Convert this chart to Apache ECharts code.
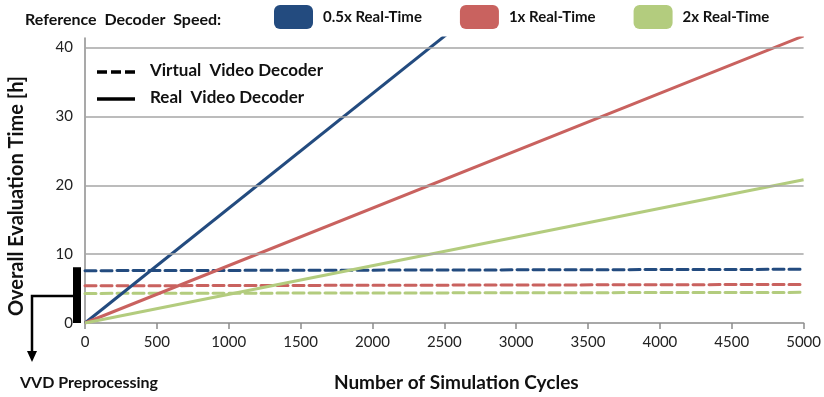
<!DOCTYPE html>
<html>
<head>
<meta charset="utf-8">
<script src="https://cdn.jsdelivr.net/npm/echarts@6/dist/echarts.min.js"></script>
<style>
  html, body { margin: 0; padding: 0; background: #fff; }
  #main { width: 824px; height: 397px; }
</style>
</head>
<body>
<div id="main"></div>
<script>
// 数据
var cycles = [0, 5000];
var speedNames = ['0.5x Real-Time', '1x Real-Time', '2x Real-Time'];
var speedColors = ['#234B7F', '#C9625F', '#B3CC7E'];
// real video decoder (hours)
var realHalf = [0, 83.3];
var realOne = [0, 41.7];
var realTwo = [0, 20.8];
// virtual video decoder (hours)
var vvdHalf = [7.6, 7.8];
var vvdOne = [5.4, 5.6];
var vvdTwo = [4.3, 4.45];
var yTicks = [0, 10, 20, 30, 40];
var preprocessing = 8.1;

var font = 'Lato, "Open Sans", sans-serif';

function pairs(ys) {
  return cycles.map(function (c, i) { return [c, ys[i]]; });
}

var realData = [realHalf, realOne, realTwo];
var vvdData = [vvdHalf, vvdOne, vvdTwo];

var series = [];
for (var i = 0; i < 3; i++) {
  series.push({
    name: speedNames[i],
    type: 'line',
    data: pairs(vvdData[i]),
    symbol: 'none',
    color: speedColors[i],
    lineStyle: { width: 3, type: [11, 5], cap: 'round', color: speedColors[i] },
    z: 2
  });
}
for (var j = 0; j < 3; j++) {
  series.push({
    name: speedNames[j],
    type: 'line',
    data: pairs(realData[j]),
    symbol: 'none',
    color: speedColors[j],
    lineStyle: { width: 3, color: speedColors[j] },
    z: 3
  });
}
// gridlines at the tick values only
series.push({
  type: 'line',
  data: [],
  silent: true,
  markLine: {
    silent: true,
    symbol: 'none',
    label: { show: false },
    lineStyle: { color: '#A6A6A6', width: 1.5, type: 'solid' },
    data: yTicks.slice(1).map(function (v) { return { yAxis: v }; })
  },
  z: 1
});

var myCharts = echarts.init(document.getElementById('main'));
var option = {
  animation: false,
  title: {
    text: 'Reference  Decoder  Speed:',
    left: 20,
    top: 7,
    textStyle: { fontFamily: font, fontWeight: 'bold', fontSize: 16, color: '#111' }
  },
  legend: {
    left: 269,
    top: 0,
    itemWidth: 39,
    itemHeight: 24,
    itemGap: 38,
    icon: 'roundRect',
    data: speedNames,
    textStyle: { fontFamily: font, fontWeight: 'bold', fontSize: 15, color: '#111', padding: [0, 0, 0, 5] }
  },
  grid: { left: 85, right: 20, top: 38, bottom: 73 },
  xAxis: {
    type: 'value',
    min: 0,
    max: 5000,
    interval: 500,
    name: 'Number of Simulation Cycles',
    nameLocation: 'middle',
    nameGap: 50,
    nameTextStyle: { fontFamily: font, fontWeight: 'bold', fontSize: 19, color: '#111', padding: [0, 0, 0, 24] },
    axisLine: { lineStyle: { color: '#8C8C8C', width: 1.5 } },
    axisTick: { show: true, length: 6, lineStyle: { color: '#8C8C8C', width: 1.5 } },
    axisLabel: {
      fontFamily: font, fontSize: 15, color: '#222', margin: 12,
      formatter: function (v) { return String(v); }
    },
    splitLine: { show: false }
  },
  yAxis: {
    type: 'value',
    min: 0,
    max: 41.4,
    interval: 10,
    axisLine: { show: true, lineStyle: { color: '#8C8C8C', width: 1.5 } },
    axisTick: { show: false },
    axisLabel: {
      fontFamily: font, fontSize: 15, color: '#222', margin: 12,
      formatter: function (v) { return yTicks.indexOf(v) >= 0 ? String(v) : ''; }
    },
    splitLine: { show: false }
  },
  series: series
};
myCharts.setOption(option);

// annotations: y title, style legend, preprocessing bar and arrow
var p0 = myCharts.convertToPixel({ gridIndex: 0 }, [0, 0]);
var pTop = myCharts.convertToPixel({ gridIndex: 0 }, [0, preprocessing]);
var midY = Math.round((p0[1] + pTop[1]) / 2) + 1;
var barX = p0[0] - 12;
function label(t, size) {
  return { text: t, fontFamily: font, fontWeight: 'bold', fontSize: size, fill: '#111' };
}

myCharts.setOption({
  graphic: [
    { type: 'text', x: 17, y: 196, rotation: Math.PI / 2,
      style: Object.assign(label('Overall Evaluation Time [h]', 20), { align: 'center', verticalAlign: 'middle' }) },
    { type: 'line', shape: { x1: 97, y1: 72, x2: 135, y2: 72 },
      style: { stroke: '#000', lineWidth: 3.5, lineDash: [10, 4] } },
    { type: 'text', left: 150, top: 62, style: label('Virtual  Video Decoder', 17) },
    { type: 'line', shape: { x1: 97, y1: 99, x2: 135, y2: 99 },
      style: { stroke: '#000', lineWidth: 3.5 } },
    { type: 'text', left: 150, top: 89, style: label('Real  Video Decoder', 17) },
    { type: 'rect', shape: { x: barX, y: pTop[1], width: 8, height: p0[1] - pTop[1] },
      style: { fill: '#000' } },
    { type: 'polyline', shape: { points: [[barX, midY], [32, midY], [32, 352]] },
      style: { stroke: '#000', lineWidth: 2.5, fill: null } },
    { type: 'polygon', shape: { points: [[27, 351], [37, 351], [32, 362]] },
      style: { fill: '#000' } },
    { type: 'text', left: 20, top: 375, style: label('VVD Preprocessing', 16) }
  ]
});
</script>
</body>
</html>
